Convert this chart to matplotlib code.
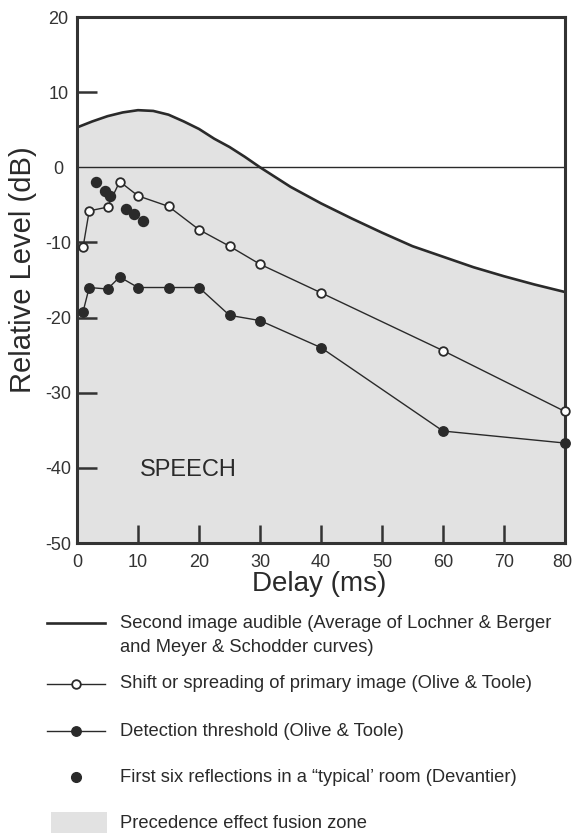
import matplotlib
import matplotlib.pyplot as plt
from matplotlib.lines import Line2D
from matplotlib.patches import Rectangle
from matplotlib.transforms import ScaledTranslation

matplotlib.use("Agg")

plt.rcParams["font.family"] = ["Liberation Sans", "DejaVu Sans"]
plt.rcParams["axes.unicode_minus"] = False

# second image audible (average curve)
audible_delay = [0, 2.5, 5, 7.5, 10, 12.5, 15, 17.5, 20, 22.5, 25, 27.5, 30,
                 32.5, 35, 37.5, 40, 45, 50, 55, 60, 65, 70, 75, 80]
audible_level = [5.3, 6.1, 6.8, 7.3, 7.6, 7.5, 7.0, 6.1, 5.1, 3.8, 2.7, 1.4, 0.0,
                 -1.3, -2.6, -3.7, -4.8, -6.8, -8.7, -10.5, -11.9, -13.3, -14.5, -15.6, -16.6]

# shift or spreading of primary image
shift_delay = [1, 2, 5, 7, 10, 15, 20, 25, 30, 40, 60, 80]
shift_level = [-10.6, -5.8, -5.3, -1.9, -3.8, -5.2, -8.3, -10.5, -12.9, -16.7, -24.4, -32.5]

# detection threshold
detect_delay = [1, 2, 5, 7, 10, 15, 20, 25, 30, 40, 60, 80]
detect_level = [-19.2, -16.0, -16.2, -14.6, -16.0, -16.0, -16.0, -19.7, -20.4, -24.0, -35.1, -36.7]

# first six reflections in a typical room
refl_delay = [3.1, 4.6, 5.4, 8.1, 9.4, 10.8]
refl_level = [-1.9, -3.1, -3.8, -5.6, -6.2, -7.1]

xticks = [0, 10, 20, 30, 40, 50, 60, 70, 80]
yticks = [20, 10, 0, -10, -20, -30, -40, -50]

ink = "#2a2a2a"
zone = "#e2e2e2"

W, H = 572, 833
fig = plt.figure(figsize=(W / 100, H / 100), dpi=100)
ax = fig.add_axes([77 / W, 1 - 543 / H, (565 - 77) / W, (543 - 17) / H])

ax.fill_between(audible_delay, -50, audible_level, color=zone, lw=0, zorder=1)
ax.axhline(0, color=ink, lw=1.0, zorder=2)
ax.plot(audible_delay, audible_level, color=ink, lw=1.9, zorder=3)
ax.plot(shift_delay, shift_level, "-o", color=ink, lw=1.0, ms=6.2,
        mfc="white", mec=ink, mew=1.3, zorder=5, clip_on=False)
ax.plot(detect_delay, detect_level, "-o", color=ink, lw=1.0, ms=6.8,
        mfc=ink, mec=ink, zorder=5, clip_on=False)
ax.plot(refl_delay, refl_level, "o", ms=7.2, mfc=ink, mec=ink, zorder=4)

ax.text(18.2, -40.3, "SPEECH", fontsize=17, color=ink, ha="center", va="center")

ax.set_xlim(0, 80)
ax.set_ylim(-50, 20)
ax.set_xticks(xticks)
ax.set_yticks(yticks)
for sp in ax.spines.values():
    sp.set_linewidth(2.2)
    sp.set_color("#333333")
    sp.set_zorder(4)

ax.tick_params(axis="x", direction="in", length=13, width=1.8, color="#333333",
               labelsize=13, labelcolor="#333333", pad=8)
ax.tick_params(axis="y", direction="in", length=14.5, width=1.8, color="#333333",
               labelsize=13, labelcolor="#333333", pad=13.5)
for lab in ax.get_yticklabels():
    lab.set_ha("center")
# no tick stubs on the zero line or along the frame edges
for i, v in enumerate(yticks):
    if v in (20, 0, -50):
        ax.yaxis.get_major_ticks()[i].tick1line.set_visible(False)
# keep the last delay label inside the figure
last = ax.xaxis.get_major_ticks()[-1].label1
last.set_transform(last.get_transform() + ScaledTranslation(-3 / 100, 0, fig.dpi_scale_trans))

fig.text(23 / W, 1 - 270 / H, "Relative Level (dB)", rotation=90, fontsize=21,
         color=ink, ha="center", va="center")
fig.text(319 / W, 1 - 584 / H, "Delay (ms)", fontsize=20, color=ink,
         ha="center", va="center")

# legend drawn below the plot in pixel coordinates
lax = fig.add_axes([0, 0, 1, 1], zorder=-1)
lax.set_xlim(0, W)
lax.set_ylim(H, 0)
lax.axis("off")

x0, x1, xm, xt = 47, 105, 76, 120
fs = 13.2
lax.add_line(Line2D([x0, x1], [623, 623], color=ink, lw=1.9))
lax.text(xt, 623, "Second image audible (Average of Lochner & Berger",
         fontsize=fs, color=ink, va="center")
lax.text(xt, 647, "and Meyer & Schodder curves)", fontsize=fs, color=ink, va="center")

lax.add_line(Line2D([x0, x1], [684, 684], color=ink, lw=1.0))
lax.add_line(Line2D([xm], [684], marker="o", ms=6.2, mfc="white", mec=ink, mew=1.3))
lax.text(xt, 684, "Shift or spreading of primary image (Olive & Toole)",
         fontsize=fs, color=ink, va="center")

lax.add_line(Line2D([x0, x1], [731, 731], color=ink, lw=1.0))
lax.add_line(Line2D([xm], [731], marker="o", ms=6.8, mfc=ink, mec=ink))
lax.text(xt, 731, "Detection threshold (Olive & Toole)", fontsize=fs, color=ink, va="center")

lax.add_line(Line2D([xm], [777], marker="o", ms=7.0, mfc=ink, mec=ink))
lax.text(xt, 777, "First six reflections in a \u201ctypical\u2019 room (Devantier)",
         fontsize=fs, color=ink, va="center")

lax.add_patch(Rectangle((51, 812), 56, 30, color=zone, lw=0))
lax.text(xt, 823, "Precedence effect fusion zone", fontsize=fs, color=ink, va="center")

fig.savefig("out.png", dpi=100)
plt.close(fig)
